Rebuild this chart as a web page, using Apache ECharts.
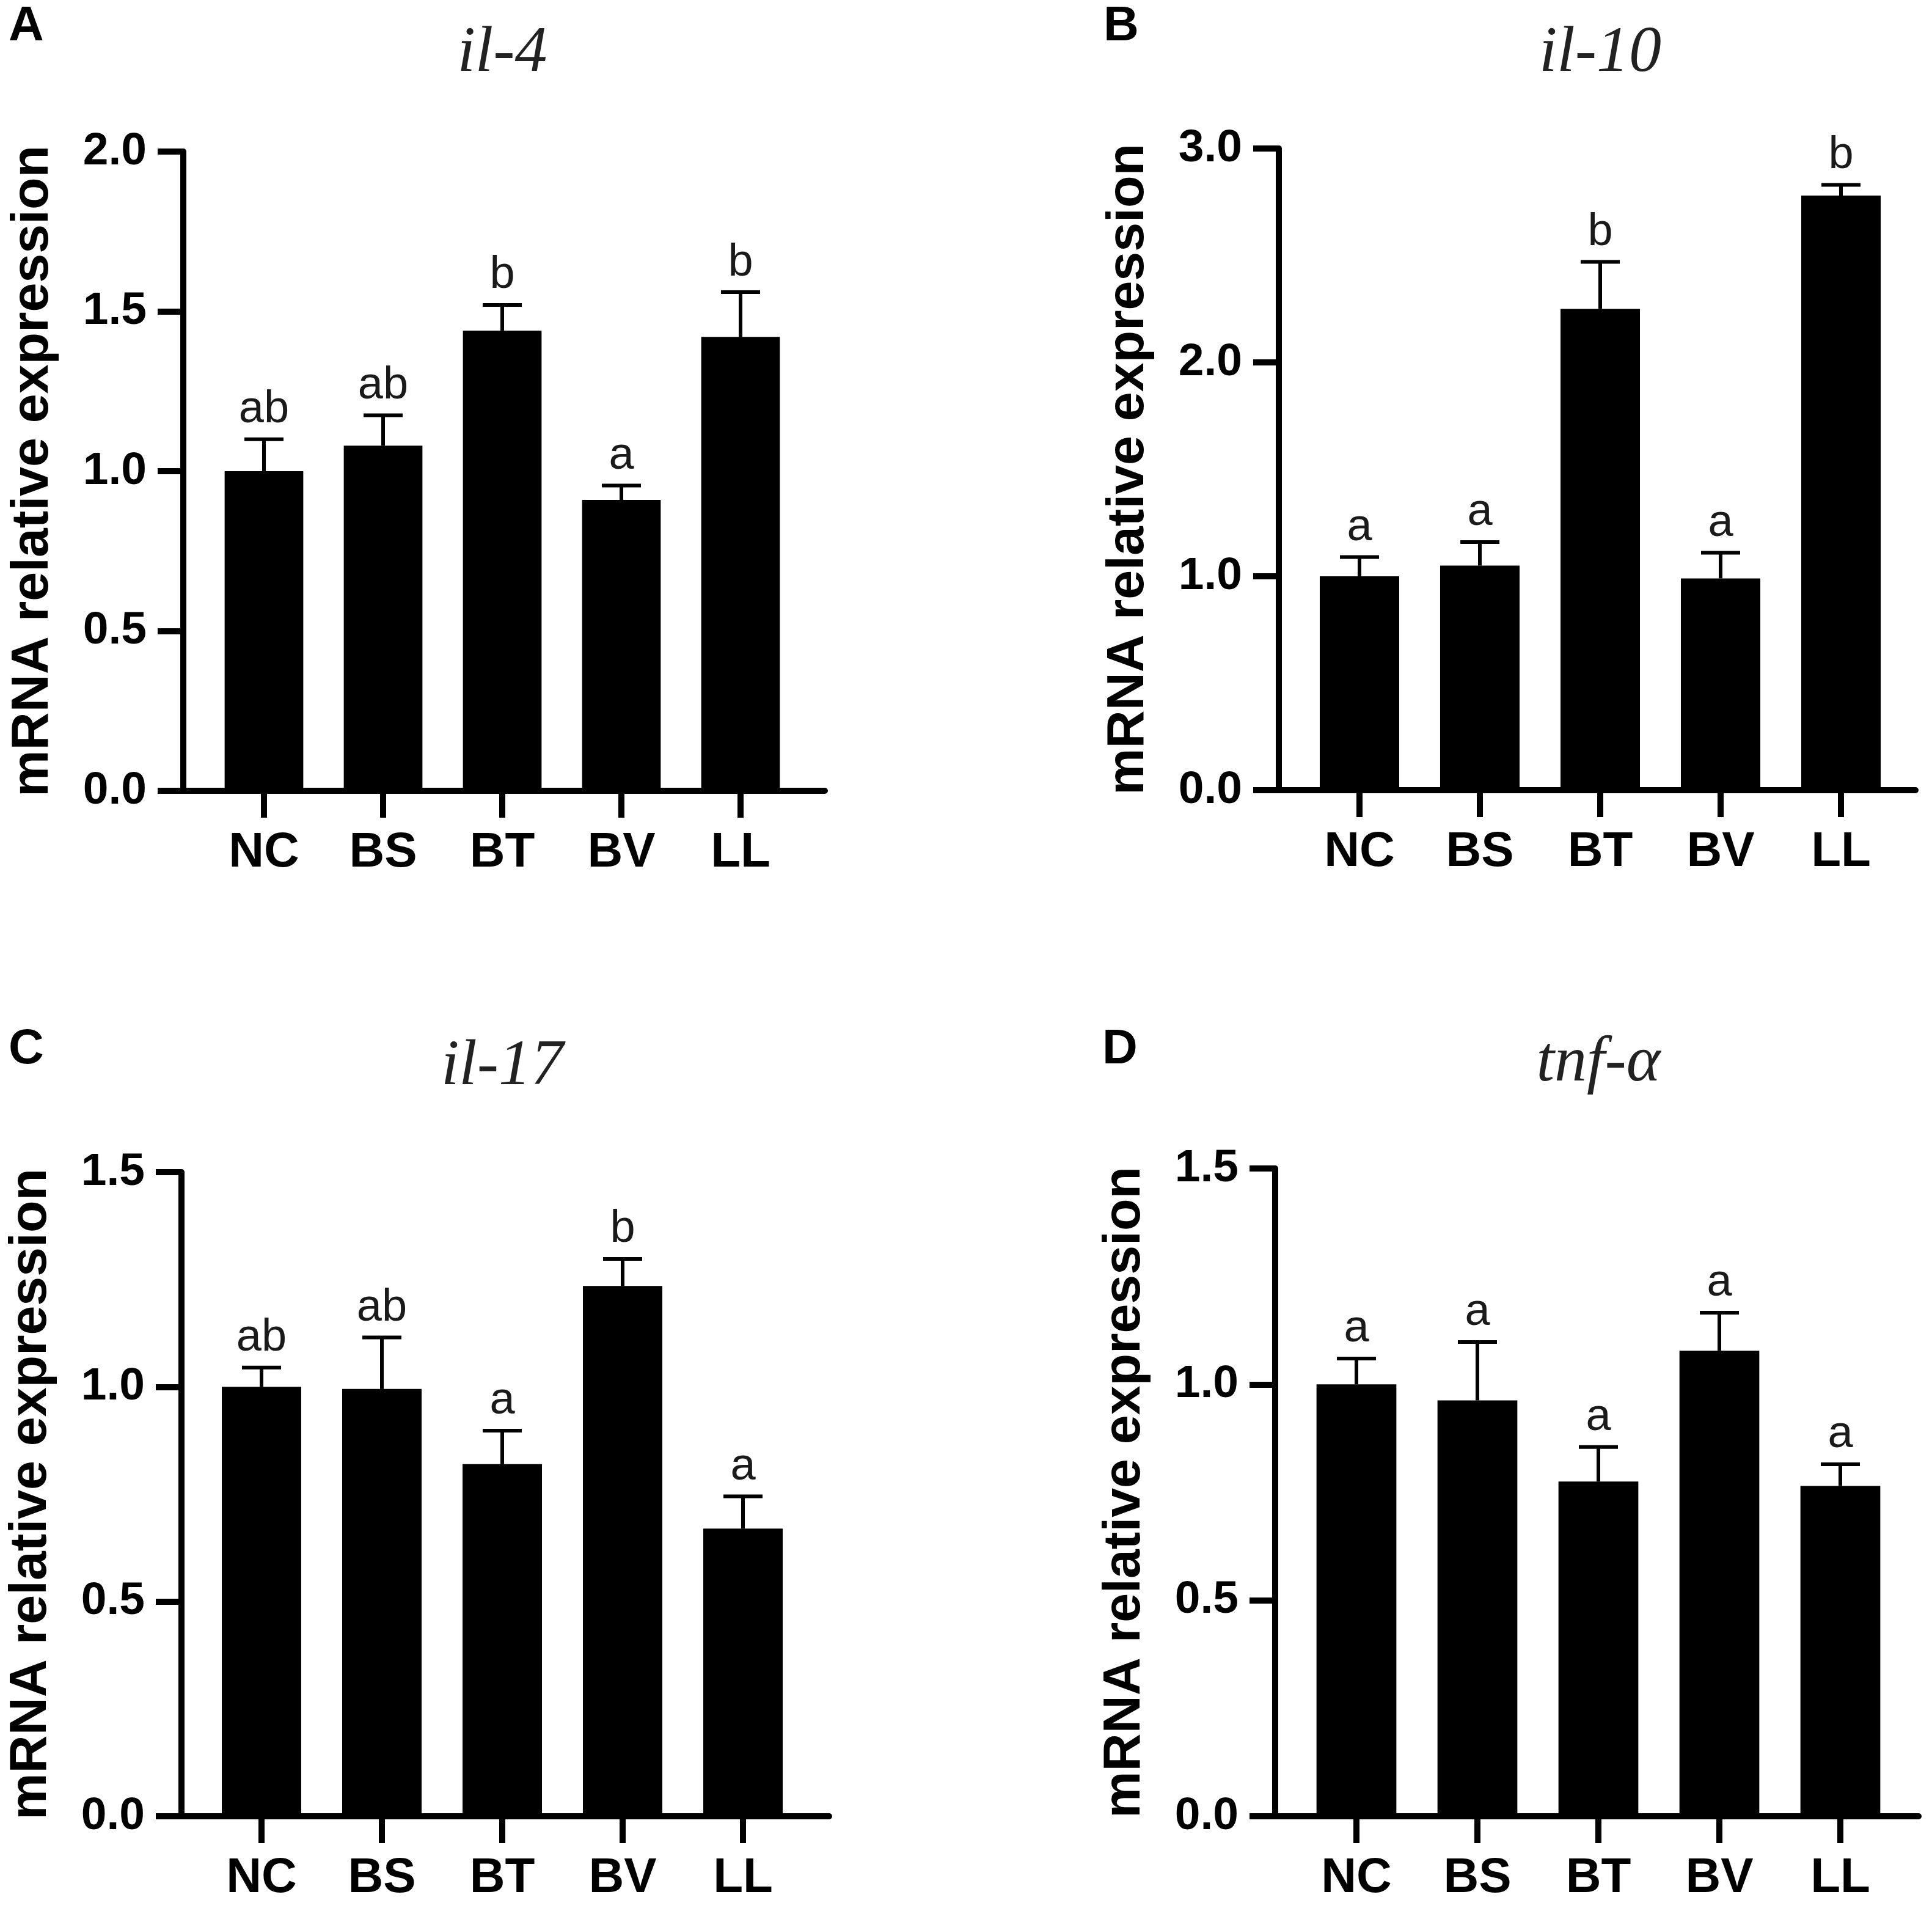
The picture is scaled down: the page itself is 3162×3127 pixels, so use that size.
<!DOCTYPE html>
<html><head><meta charset="utf-8">
<script src="https://cdn.jsdelivr.net/npm/echarts@6/dist/echarts.min.js"></script>
<style>html,body{margin:0;padding:0;background:#fff}#c{width:3162px;height:3127px}</style>
</head><body><div id="c"></div>
<script>
// ---- data ----
const categories = ['NC', 'BS', 'BT', 'BV', 'LL'];

const il4Mean = [1.00, 1.08, 1.44, 0.91, 1.42];
const il4Err = [0.10, 0.095, 0.08, 0.045, 0.14];
const il4Letters = ['ab', 'ab', 'b', 'a', 'b'];

const il10Mean = [1.00, 1.05, 2.25, 0.99, 2.78];
const il10Err = [0.09, 0.11, 0.22, 0.12, 0.05];
const il10Letters = ['a', 'a', 'b', 'a', 'b'];

const il17Mean = [1.00, 0.995, 0.82, 1.235, 0.67];
const il17Err = [0.045, 0.12, 0.078, 0.063, 0.075];
const il17Letters = ['ab', 'ab', 'a', 'b', 'a'];

const tnfMean = [1.00, 0.963, 0.775, 1.078, 0.765];
const tnfErr = [0.06, 0.135, 0.08, 0.088, 0.05];
const tnfLetters = ['a', 'a', 'a', 'a', 'a'];

const il4Ticks = [0, 2.0, 0.5];
const il10Ticks = [0, 3.0, 1.0];
const il17Ticks = [0, 1.5, 0.5];
const tnfTicks = [0, 1.5, 0.5];

// ---- layout ----
const SANS = 'Liberation Sans, Arial, sans-serif';
const SERIF = 'Liberation Serif, Times New Roman, serif';
const panels = [
  {tag: 'A', title: 'il-4', mean: il4Mean, err: il4Err, letters: il4Letters, ticks: il4Ticks,
   axisX: 300, xEnd: 1350, top: 248, bottom: 1294, first: 432, step: 195, tagX: 14, tagY: 4, titleBase: 124},
  {tag: 'B', title: 'il-10', mean: il10Mean, err: il10Err, letters: il10Letters, ticks: il10Ticks,
   axisX: 2093, xEnd: 3135, top: 243, bottom: 1293, first: 2225, step: 197, tagX: 1806, tagY: 4, titleBase: 124},
  {tag: 'C', title: 'il-17', mean: il17Mean, err: il17Err, letters: il17Letters, ticks: il17Ticks,
   axisX: 297, xEnd: 1357, top: 1918, bottom: 2972, first: 428, step: 197, tagX: 14, tagY: 1678, titleBase: 1782},
  {tag: 'D', title: 'tnf-α', mean: tnfMean, err: tnfErr, letters: tnfLetters, ticks: tnfTicks,
   axisX: 2087, xEnd: 3140, top: 1912, bottom: 2972, first: 2220, step: 198, tagX: 1804, tagY: 1678, titleBase: 1776}
];

const grid = [], xAxis = [], yAxis = [], series = [], graphic = [];
panels.forEach((p, i) => {
  const ga = 2 * i, gb = 2 * i + 1;
  const h = p.bottom - p.top;
  grid.push({left: p.axisX, top: p.top, width: p.xEnd - p.axisX, height: h});
  grid.push({left: p.first - p.step / 2, top: p.top, width: 5 * p.step, height: h});
  // axes frame grid
  xAxis.push({type: 'value', gridIndex: ga, min: 0, max: 1,
    axisLine: {show: true, onZero: false, lineStyle: {color: '#000', width: 10}},
    axisTick: {show: false}, axisLabel: {show: false}, splitLine: {show: false}});
  yAxis.push({type: 'value', gridIndex: ga, min: p.ticks[0], max: p.ticks[1], interval: p.ticks[2],
    axisLine: {show: true, onZero: false, lineStyle: {color: '#000', width: 10}},
    axisTick: {show: true, length: 42, lineStyle: {color: '#000', width: 10}},
    axisLabel: {show: true, margin: 60, fontSize: 75, fontWeight: 'bold', fontFamily: SANS, color: '#000',
      formatter: v => v.toFixed(1)},
    splitLine: {show: false},
    name: 'mRNA relative expression', nameLocation: 'middle', nameGap: 203,
    nameTextStyle: {fontSize: 86, fontWeight: 'bold', fontFamily: SANS, color: '#000'}});
  // bars grid
  xAxis.push({type: 'category', gridIndex: gb, data: categories,
    axisLine: {show: false}, axisTick: {show: true, alignWithLabel: true, length: 44, lineStyle: {color: '#000', width: 10}},
    axisLabel: {margin: 62, fontSize: 80, fontWeight: 'bold', fontFamily: SANS, color: '#000'},
    splitLine: {show: false}});
  yAxis.push({type: 'value', gridIndex: gb, min: p.ticks[0], max: p.ticks[1], show: false, splitLine: {show: false}});
  series.push({type: 'bar', xAxisIndex: gb, yAxisIndex: gb, data: p.mean, barWidth: '66%',
    itemStyle: {color: '#000'}, silent: true});
  const letters = p.letters;
  series.push({type: 'custom', xAxisIndex: gb, yAxisIndex: gb, z: 3, silent: true,
    data: p.mean.map((m, j) => [j, m, m + p.err[j]]),
    encode: {x: 0, y: [1, 2]},
    renderItem: (params, api) => {
      const x = api.value(0), lo = api.value(1), hi = api.value(2);
      const a = api.coord([x, lo]), b = api.coord([x, hi]);
      const half = 32;
      return {type: 'group', children: [
        {type: 'line', shape: {x1: a[0], y1: a[1], x2: b[0], y2: b[1]}, style: {stroke: '#000', lineWidth: 6}},
        {type: 'line', shape: {x1: b[0] - half, y1: b[1], x2: b[0] + half, y2: b[1]}, style: {stroke: '#000', lineWidth: 6}},
        {type: 'text', x: b[0], y: b[1] - 11, style: {text: letters[params.dataIndex], x: 0, y: 0,
          align: 'center', verticalAlign: 'bottom', fontSize: 74, fontFamily: SANS, fill: '#1a1a1a'}}
      ]};
    }});
  graphic.push({type: 'text', x: p.tagX, y: p.tagY, style: {text: p.tag, x: 0, y: 0, align: 'left', verticalAlign: 'top',
    fontSize: 80, fontWeight: 'bold', fontFamily: SANS, fill: '#000'}});
  graphic.push({type: 'text', x: p.first + 2 * p.step, y: p.titleBase + 17, style: {text: p.title, x: 0, y: 0,
    align: 'center', verticalAlign: 'bottom', fontSize: 106, fontStyle: 'italic', fontFamily: SERIF, fill: '#222'}});
});

const chart = echarts.init(document.getElementById('c'), null, {renderer: 'canvas'});
chart.setOption({backgroundColor: '#fff', animation: false, grid, xAxis, yAxis, series, graphic});
</script>
</body></html>
